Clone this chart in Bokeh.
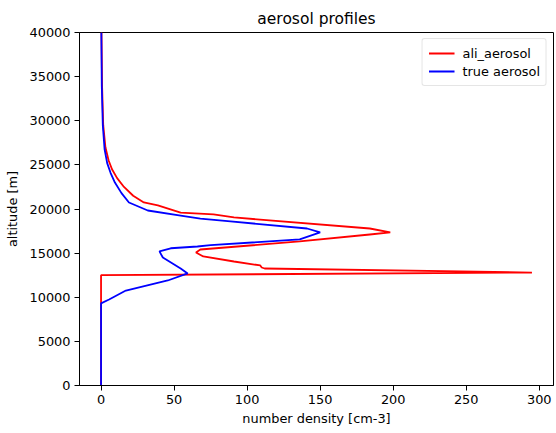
from bokeh.plotting import figure
from bokeh.models import Range1d, FixedTicker, BasicTickFormatter, Legend, LegendItem
from bokeh.embed import file_html
from bokeh.resources import INLINE

# ali_aerosol profile (number density [cm-3], altitude [m])
ali_density = [0, 0, 295, 112, 110, 109, 91, 70, 65, 68, 136, 184, 198, 184, 91, 77,
               54.5, 38.9, 29.3, 22, 15.7, 11, 7.5, 5.2, 3, 1.5, 0.7, 0.3]
ali_altitude = [0, 12500, 12800, 13260, 13370, 13600, 14050, 14620, 15070, 15410, 16320,
                17110, 17340, 17790, 19040, 19380, 19600, 20400, 20740, 21500, 22500,
                23500, 24500, 25500, 27000, 29500, 34000, 40000]

# true aerosol profile
true_density = [0, 0, 5.5, 17, 45.7, 59.3, 54.5, 42.3, 40, 47.7, 66, 75, 136, 150, 141,
                88.6, 68, 54.5, 32, 19.1, 14, 9.5, 6.5, 4.2, 2.4, 1.2, 0.5, 0.2]
true_altitude = [0, 9300, 9750, 10760, 11900, 12700, 13260, 14500, 15200, 15550, 15750,
                 15900, 16550, 17340, 17790, 18600, 18920, 19260, 19830, 20740, 21800,
                 23000, 24100, 25200, 26800, 29500, 34000, 40000]

x_ticks = [0, 50, 100, 150, 200, 250, 300]
y_ticks = [0, 5000, 10000, 15000, 20000, 25000, 30000, 35000, 40000]

FONT = "DejaVu Sans"

p = figure(width=556, height=433, output_backend="svg", toolbar_location=None,
           x_range=Range1d(-14.75, 309.75), y_range=Range1d(0, 40000),
           min_border_left=79, min_border_right=3, min_border_top=32, min_border_bottom=48,
           title="aerosol profiles")

p.title.align = "center"
p.title.text_font = FONT
p.title.text_font_size = "15.5px"
p.title.text_font_style = "normal"
p.title.text_color = "black"

p.xgrid.visible = False
p.ygrid.visible = False
p.outline_line_color = "black"
p.outline_line_width = 1
p.background_fill_color = "white"
p.border_fill_color = "white"

for ax in (p.xaxis[0], p.yaxis[0]):
    ax.axis_line_color = "black"
    ax.major_tick_line_color = "black"
    ax.major_tick_out = 5
    ax.major_tick_in = 0
    ax.minor_tick_line_color = None
    ax.major_label_text_font = FONT
    ax.major_label_text_font_size = "12.9px"
    ax.major_label_text_color = "black"
    ax.axis_label_text_font = FONT
    ax.axis_label_text_font_size = "12.9px"
    ax.axis_label_text_font_style = "normal"
    ax.axis_label_text_color = "black"
    ax.formatter = BasicTickFormatter(use_scientific=False)

p.xaxis[0].ticker = FixedTicker(ticks=x_ticks)
p.yaxis[0].ticker = FixedTicker(ticks=y_ticks)
p.xaxis[0].axis_label = "number density [cm-3]"
p.yaxis[0].axis_label = "altitude [m]"
p.xaxis[0].major_label_standoff = 4
p.yaxis[0].major_label_standoff = 4
p.xaxis[0].axis_label_standoff = 4
p.yaxis[0].axis_label_standoff = 6

r1 = p.line(ali_density, ali_altitude, line_color="#ff0000", line_width=1.8)
r2 = p.line(true_density, true_altitude, line_color="#0000ff", line_width=1.8)

legend = Legend(items=[LegendItem(label="ali_aerosol", renderers=[r1]),
                       LegendItem(label="true aerosol", renderers=[r2])],
                location="top_right")
legend.label_text_font = FONT
legend.label_text_font_size = "12.9px"
legend.label_text_color = "black"
legend.glyph_width = 26
legend.glyph_height = 16
legend.label_height = 16
legend.spacing = 2
legend.padding = 6
legend.margin = 6
legend.label_standoff = 8
legend.border_line_color = "#cccccc"
legend.border_line_width = 1
legend.border_radius = 3
legend.background_fill_alpha = 0.8
p.add_layout(legend)

open("out.html", "w").write(file_html(p, INLINE))
